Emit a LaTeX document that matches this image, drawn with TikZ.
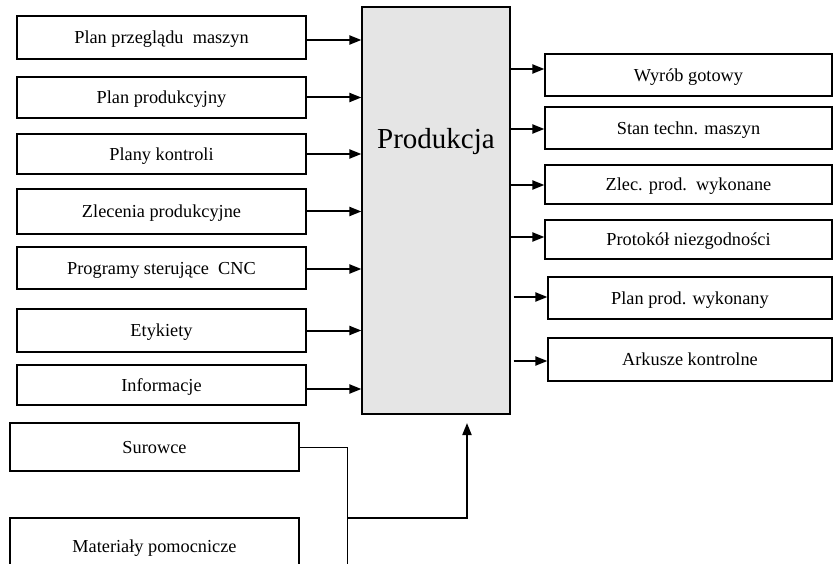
\documentclass[tikz,border=0pt]{standalone}
\usepackage{fontspec}
\setmainfont{Liberation Serif}
\usetikzlibrary{arrows.meta}
\begin{document}
\begin{tikzpicture}[x=1pt,y=-1pt,
  box/.style={draw,line width=1.2pt,minimum width=289pt,inner sep=0pt,
    font=\fontsize{18.3}{22}\selectfont,text height=12.5pt,text depth=0pt},
  rbox/.style={box,minimum width=287pt},
  mainbox/.style={draw,line width=1.2pt,fill=black!10,minimum width=148pt,minimum height=407pt,inner sep=0pt,
    font=\fontsize{29}{34}\selectfont},
  arr/.style={line width=2pt,-{Triangle[length=12pt,width=9pt]}},
  thin/.style={line width=1pt}]
\useasboundingbox (0,0) rectangle (833,564);
% main process
\node[mainbox] (main) at (436,210.5) {\raisebox{61.5pt}[0pt][0pt]{Produkcja}};
% inputs
\node[box,minimum height=43pt] (i1) at (161.5,37.5) {Plan przeglądu\ \ maszyn};
\node[box,minimum height=41pt] (i2) at (161.5,97.5) {Plan produkcyjny};
\node[box,minimum height=40pt] (i3) at (161.5,154) {Plany kontroli};
\node[box,minimum height=45pt] (i4) at (161.5,211.5) {Zlecenia produkcyjne};
\node[box,minimum height=42pt] (i5) at (161.5,268) {Programy sterujące\ \ CNC};
\node[box,minimum height=43pt] (i6) at (161.5,330.5) {Etykiety};
\node[box,minimum height=40pt] (i7) at (161.5,385) {Informacje};
% resources
\node[box,minimum height=48pt] (s1) at (154.5,447) {\raisebox{0pt}[0pt][0pt]{Surowce}};
\node[box,minimum height=57pt] (s2) at (154.5,546.5) {\raisebox{0pt}[0pt][0pt]{Materiały pomocnicze}};
% outputs
\node[rbox,minimum height=42pt] (o1) at (688.5,75) {Wyrób gotowy};
\node[rbox,minimum height=42pt] (o2) at (688.5,128) {Stan techn. maszyn};
\node[rbox,minimum height=39pt] (o3) at (688.5,184.5) {Zlec. prod.\ \ wykonane};
\node[rbox,minimum height=39pt] (o4) at (688.5,239.5) {Protokół niezgodności};
\node[box,minimum width=284pt,minimum height=42pt] (o5) at (690,298) {Plan prod. wykonany};
\node[box,minimum width=284pt,minimum height=43pt] (o6) at (690,359.5) {Arkusze kontrolne};
% input arrows
\draw[arr] ([yshift=-2.5pt]i1.east) -- ([yshift=-2.5pt]i1.east -| main.west);
\draw[arr] (i2.east) -- (i2.east -| main.west);
\draw[arr] (i3.east) -- (i3.east -| main.west);
\draw[arr] (i4.east) -- (i4.east -| main.west);
\draw[arr] ([yshift=-1pt]i5.east) -- ([yshift=-1pt]i5.east -| main.west);
\draw[arr] (i6.east) -- (i6.east -| main.west);
\draw[arr] ([yshift=-4pt]i7.east) -- ([yshift=-4pt]i7.east -| main.west);
% output arrows
\draw[arr] ([yshift=6pt]o1.west -| main.east) -- ([yshift=6pt]o1.west);
\draw[arr] ([yshift=-1pt]o2.west -| main.east) -- ([yshift=-1pt]o2.west);
\draw[arr] ([yshift=-0.5pt]o3.west -| main.east) -- ([yshift=-0.5pt]o3.west);
\draw[arr] ([yshift=2.5pt]o4.west -| main.east) -- ([yshift=2.5pt]o4.west);
\draw[arr] ([xshift=3pt,yshift=1pt]o5.west -| main.east) -- ([yshift=1pt]o5.west);
\draw[arr] ([xshift=3pt,yshift=-1.5pt]o6.west -| main.east) -- ([yshift=-1.5pt]o6.west);
% resource connectors
\coordinate (j) at (347,518);
\coordinate (jb) at (347,570);
\coordinate (tip) at (467,423);
\draw[thin] (s1.east) -| (jb);
\draw[arr] (j) -| (tip);
\end{tikzpicture}
\end{document}
